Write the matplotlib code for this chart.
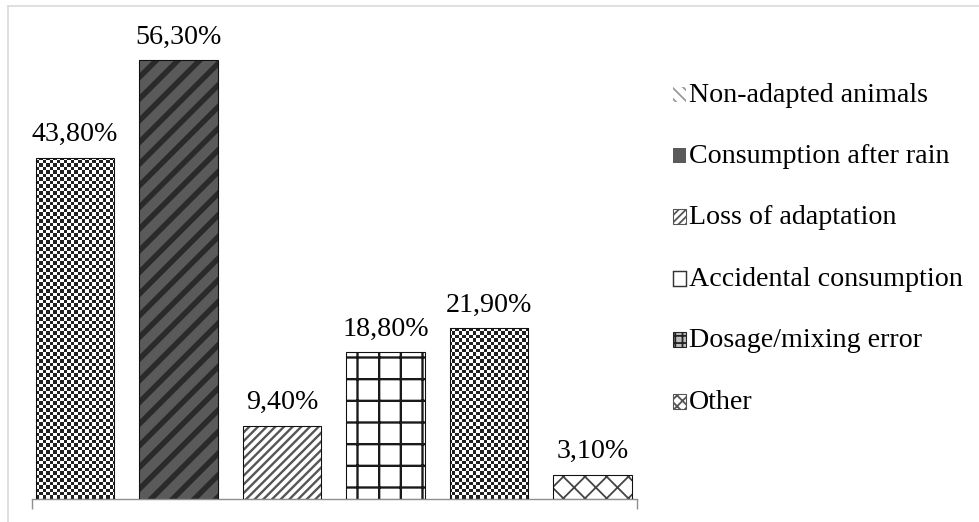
import numpy as np
import matplotlib
matplotlib.use("Agg")
import matplotlib.pyplot as plt
from matplotlib.patches import Rectangle
from matplotlib.lines import Line2D

# ---------------- data ----------------
categories = ["Non-adapted animals", "Consumption after rain", "Loss of adaptation",
              "Accidental consumption", "Dosage/mixing error", "Other"]
values = [43.8, 56.3, 9.4, 18.8, 21.9, 3.1]
value_labels = ["43,80%", "56,30%", "9,40%", "18,80%", "21,90%", "3,10%"]

# ---------------- figure ----------------
DPI = 130
W, H = 979, 522
plt.rcParams['font.family'] = ['Liberation Serif', 'DejaVu Serif']
fig = plt.figure(figsize=(W / DPI, H / DPI), dpi=DPI, facecolor='white')

FS = 15.5
PT = 72.0 / DPI  # points per pixel

ax = fig.add_axes([32 / W, (H - 499) / H, 605 / W, 467.8 / H])
XL = (-0.4155, 5.43)
YL = (0, 60)

x = np.arange(len(values))
bw = 0.754

# bar styles (fill, hatch, hatch colour, hatch linewidth); None => checkerboard
bar_styles = [
    None,
    ('#5a5a5a', '//', '#2a2a2a', 3.0),
    ('white', '/////', '#555555', 1.3),
    ('white', '+', '#1a1a1a', 1.3),
    None,
    ('white', 'xx', '#444444', 1.0),
]

checker_patches = []
for i, st in enumerate(bar_styles):
    if st is None:
        b = ax.bar(x[i], values[i], bw, color='white', linewidth=0, zorder=1)
        checker_patches.append(b.patches[0])
    else:
        face, hatch, hc, hlw = st
        with plt.rc_context({'hatch.linewidth': hlw}):
            b = ax.bar(x[i], values[i], bw, color=face, edgecolor=hc, linewidth=0,
                       hatch=hatch, zorder=1)
        for p in b.patches:
            if hasattr(p, 'set_hatch_linewidth'):
                p.set_hatch_linewidth(hlw)

# checkerboard fill for the checker bars
nx = int(round(605 / 3.5))
ny = int(round(467.8 / 3.5))
yy, xx = np.indices((ny, nx))
checker = ((xx + yy) % 2).astype(float)
for p in checker_patches:
    im = ax.imshow(checker, cmap='gray', vmin=-0.15, vmax=1.0,
                   extent=(XL[0], XL[1], YL[0], YL[1]), aspect='auto',
                   interpolation='antialiased', zorder=2)
    im.set_clip_path(p)

# outlines
ax.bar(x, values, bw, fill=False, edgecolor='#111111', linewidth=0.6, zorder=3)

ax.set_xlim(*XL)
ax.set_ylim(*YL)

# value labels
for xi, v, lbl in zip(x, values, value_labels):
    ax.annotate(lbl, (xi, v), xytext=(0, 16.5 * PT), textcoords='offset points',
                ha='center', va='baseline', fontsize=FS, color='black')

# axes styling
for s in ('top', 'left', 'right'):
    ax.spines[s].set_visible(False)
ax.spines['bottom'].set_color('#8f8f8f')
ax.spines['bottom'].set_linewidth(1.4 * PT)
ax.set_xticks([XL[0], XL[1]])
ax.set_xticklabels([])
ax.set_yticks([])
ax.tick_params(axis='x', direction='out', length=10 * PT, width=1.4 * PT,
               color='#8f8f8f', labelbottom=False)

# ---------------- legend (manual) ----------------
leg_styles = [
    dict(facecolor='white', edgecolor='#9a9a9a', hatch='\\\\\\\\', lw=0),
    dict(facecolor='#5a5a5a', edgecolor='#5a5a5a', hatch=None, lw=0),
    dict(facecolor='white', edgecolor='#555555', hatch='//////', lw=0.6),
    dict(facecolor='white', edgecolor='#333333', hatch=None, lw=0.8),
    dict(facecolor='#bdbdbd', edgecolor='#222222', hatch='+++', lw=0.6),
    dict(facecolor='white', edgecolor='#555555', hatch='xxxx', lw=0.6),
]
base0, step = 101.6, 61.4
for i, (name, st) in enumerate(zip(categories, leg_styles)):
    yb = base0 + step * i
    r = Rectangle((673 / W, 1 - yb / H), 13 / W, 15 / H, transform=fig.transFigure,
                  facecolor=st['facecolor'], edgecolor=st['edgecolor'],
                  hatch=st['hatch'], linewidth=st['lw'])
    fig.add_artist(r)
    fig.text(689 / W, 1 - yb / H, name, ha='left', va='baseline', fontsize=FS,
             color='black')

# chart-area border (top and left only visible)
fig.add_artist(Line2D([7.5 / W, 7.5 / W], [1 - 5.5 / H, 0], transform=fig.transFigure,
                      color='#d9d9d9', linewidth=1.6 * PT))
fig.add_artist(Line2D([7.5 / W, 1], [1 - 5.5 / H, 1 - 5.5 / H], transform=fig.transFigure,
                      color='#d9d9d9', linewidth=1.6 * PT))

fig.savefig('out.png', dpi=DPI, facecolor='white')
